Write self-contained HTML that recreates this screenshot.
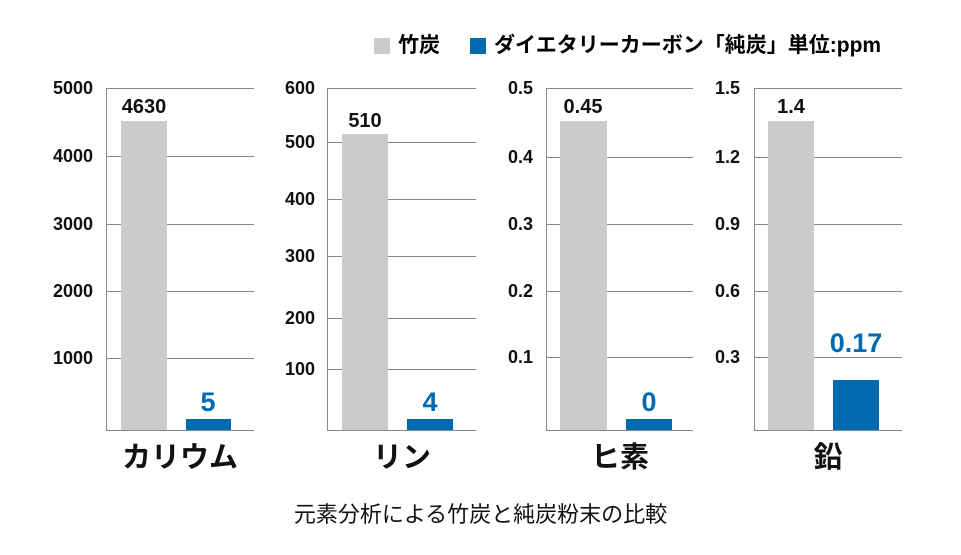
<!DOCTYPE html><html><head><meta charset="utf-8"><style>
body{margin:0;width:961px;height:555px;background:#fff;font-family:"Liberation Sans","Noto Sans CJK JP",sans-serif;position:relative;overflow:hidden}
.a{position:absolute}
.t{position:absolute;font-size:18px;font-weight:bold;color:#111;text-align:right;width:60px;line-height:20px}
.g{position:absolute;height:1px;background:#888}
.v{position:absolute;width:1px;background:#888;top:88px;height:343px}
.gb{position:absolute;background:#cbcbcb}
.bb{position:absolute;background:#006ab0}
.cl{position:absolute;font-size:29px;font-weight:bold;color:#111;text-align:center;width:160px;top:438px;line-height:40px}
.vl{position:absolute;font-size:20px;font-weight:bold;color:#111;text-align:center;width:80px;line-height:24px}
.bl{position:absolute;font-size:27px;font-weight:bold;color:#006ab0;text-align:center;width:90px;line-height:30px}
</style></head><body>
<div class="a" style="left:374px;top:38px;width:16px;height:16px;background:#cbcbcb"></div>
<div class="a" style="left:398px;top:34px;font-size:21px;line-height:24px;font-weight:bold">竹炭</div>
<div class="a" style="left:470px;top:38px;width:16px;height:16px;background:#006ab0"></div>
<div class="a" style="left:494px;top:34px;font-size:21px;line-height:24px;font-weight:bold">ダイエタリーカーボン「純炭」単位:ppm</div>

<!-- panel1 -->
<div class="v" style="left:106px"></div>
<div class="g" style="left:106px;width:148px;top:88px"></div>
<div class="g" style="left:106px;width:148px;top:156px"></div>
<div class="g" style="left:106px;width:148px;top:224px"></div>
<div class="g" style="left:106px;width:148px;top:291px"></div>
<div class="g" style="left:106px;width:148px;top:358px"></div>
<div class="g" style="left:106px;width:148px;top:430px"></div>
<div class="t" style="left:33px;top:78px">5000</div>
<div class="t" style="left:33px;top:146px">4000</div>
<div class="t" style="left:33px;top:214px">3000</div>
<div class="t" style="left:33px;top:281px">2000</div>
<div class="t" style="left:33px;top:348px">1000</div>
<div class="gb" style="left:121px;top:121px;width:46px;height:309px"></div>
<div class="bb" style="left:186px;top:419px;width:45px;height:11px"></div>
<div class="vl" style="left:104px;top:95px">4630</div>
<div class="bl" style="left:163px;top:387px">5</div>
<div class="cl" style="left:100px">カリウム</div>

<!-- panel2 -->
<div class="v" style="left:327px"></div>
<div class="g" style="left:327px;width:149px;top:88px"></div>
<div class="g" style="left:327px;width:149px;top:142px"></div>
<div class="g" style="left:327px;width:149px;top:199px"></div>
<div class="g" style="left:327px;width:149px;top:256px"></div>
<div class="g" style="left:327px;width:149px;top:318px"></div>
<div class="g" style="left:327px;width:149px;top:369px"></div>
<div class="g" style="left:327px;width:149px;top:430px"></div>
<div class="t" style="left:255px;top:78px">600</div>
<div class="t" style="left:255px;top:132px">500</div>
<div class="t" style="left:255px;top:189px">400</div>
<div class="t" style="left:255px;top:246px">300</div>
<div class="t" style="left:255px;top:308px">200</div>
<div class="t" style="left:255px;top:359px">100</div>
<div class="gb" style="left:342px;top:134px;width:46px;height:296px"></div>
<div class="bb" style="left:407px;top:419px;width:46px;height:11px"></div>
<div class="vl" style="left:325px;top:109px">510</div>
<div class="bl" style="left:385px;top:387px">4</div>
<div class="cl" style="left:322px">リン</div>

<!-- panel3 -->
<div class="v" style="left:546px"></div>
<div class="g" style="left:546px;width:147px;top:88px"></div>
<div class="g" style="left:546px;width:147px;top:157px"></div>
<div class="g" style="left:546px;width:147px;top:224px"></div>
<div class="g" style="left:546px;width:147px;top:291px"></div>
<div class="g" style="left:546px;width:147px;top:357px"></div>
<div class="g" style="left:546px;width:147px;top:430px"></div>
<div class="t" style="left:473px;top:78px">0.5</div>
<div class="t" style="left:473px;top:147px">0.4</div>
<div class="t" style="left:473px;top:214px">0.3</div>
<div class="t" style="left:473px;top:281px">0.2</div>
<div class="t" style="left:473px;top:347px">0.1</div>
<div class="gb" style="left:560px;top:121px;width:47px;height:309px"></div>
<div class="bb" style="left:626px;top:419px;width:46px;height:11px"></div>
<div class="vl" style="left:543px;top:95px">0.45</div>
<div class="bl" style="left:604px;top:387px">0</div>
<div class="cl" style="left:540px">ヒ素</div>

<!-- panel4 -->
<div class="v" style="left:754px"></div>
<div class="g" style="left:754px;width:148px;top:88px"></div>
<div class="g" style="left:754px;width:148px;top:157px"></div>
<div class="g" style="left:754px;width:148px;top:224px"></div>
<div class="g" style="left:754px;width:148px;top:291px"></div>
<div class="g" style="left:754px;width:148px;top:357px"></div>
<div class="g" style="left:754px;width:148px;top:430px"></div>
<div class="t" style="left:680px;top:78px">1.5</div>
<div class="t" style="left:680px;top:147px">1.2</div>
<div class="t" style="left:680px;top:214px">0.9</div>
<div class="t" style="left:680px;top:281px">0.6</div>
<div class="t" style="left:680px;top:347px">0.3</div>
<div class="gb" style="left:768px;top:121px;width:46px;height:309px"></div>
<div class="bb" style="left:833px;top:380px;width:46px;height:50px"></div>
<div class="vl" style="left:751px;top:95px">1.4</div>
<div class="bl" style="left:811px;top:328px">0.17</div>
<div class="cl" style="left:748px">鉛</div>

<div class="a" style="left:0;width:961px;text-align:center;top:501px;font-size:22px;line-height:28px;color:#111">元素分析による竹炭と純炭粉末の比較</div>
</body></html>
